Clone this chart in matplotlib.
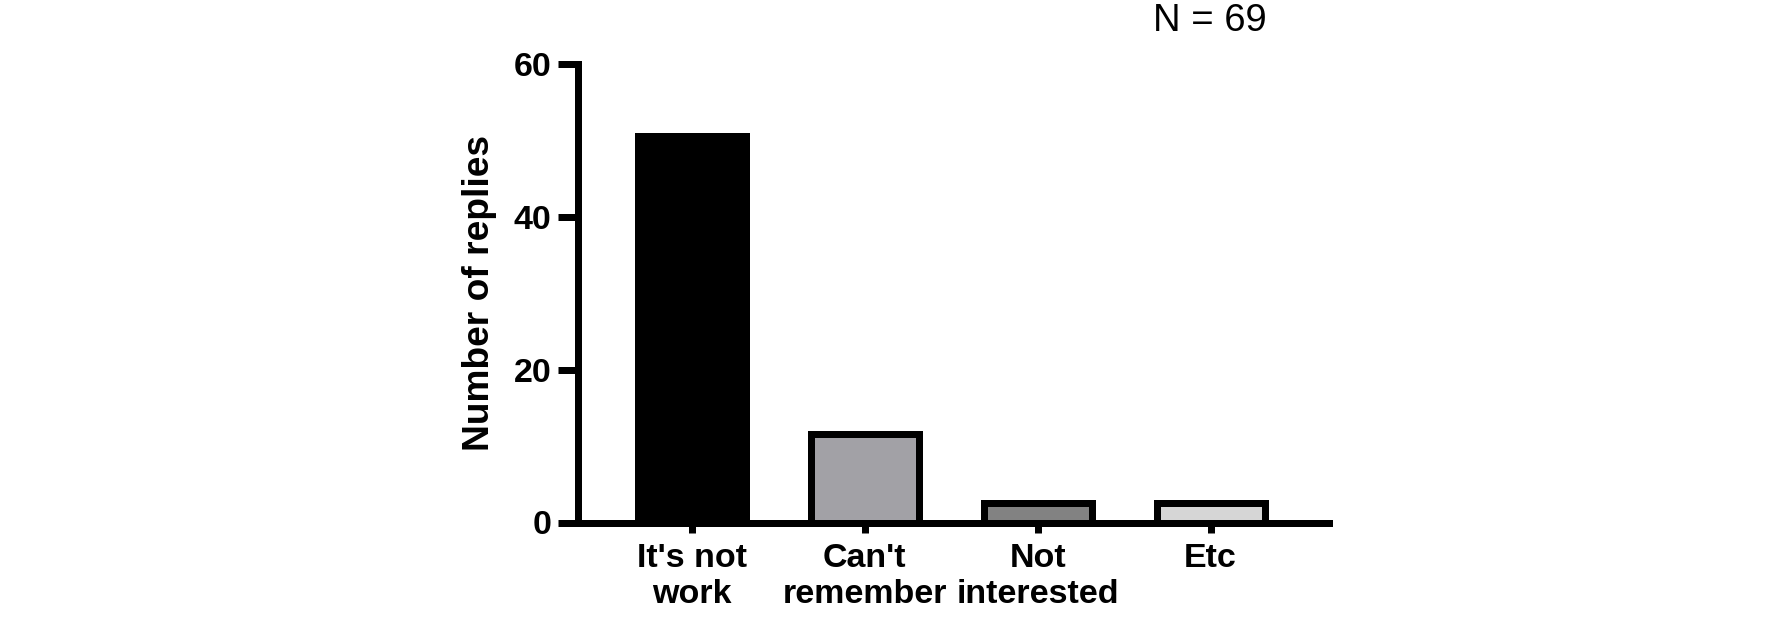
import numpy as np
import matplotlib
matplotlib.use("Agg")
import matplotlib.pyplot as plt

plt.rcParams['font.family'] = ['Liberation Sans', 'DejaVu Sans']

categories = ["It's not\nwork", "Can't\nremember", "Not\ninterested", "Etc"]
replies = [51, 12, 3, 3]
fill_colors = ["#000000", "#a2a1a6", "#828282", "#d6d6d6"]
y_ticks = [0, 20, 40, 60]

W, H = 1772, 622
fig = plt.figure(figsize=(W / 100, H / 100), dpi=100)
# axes box in pixels: y-axis at x=577.5, x-axis end 1329, y=0 at 522.5, y=60 at 64
ax = fig.add_axes([577.5 / W, 1 - 522.5 / H, (1329 - 577.5) / W, (522.5 - 64) / H])

lw_px = 7
lw = lw_px * 72 / 100
ymax = 60
px_per_unit = (522.5 - 64) / ymax
half_lw = (lw_px / 2) / px_per_unit  # so the outer edge of the border sits at the value

x = np.arange(len(categories))
heights = [v - half_lw for v in replies]
ax.bar(x, heights, width=0.624, color=fill_colors, edgecolor="black",
       linewidth=lw, zorder=3)

ax.set_xlim(-0.66, 3.684)
ax.set_ylim(0, ymax)
ax.set_yticks(y_ticks)
ax.set_xticks(x)
ax.set_xticklabels(categories, fontsize=24.5, fontweight="bold", linespacing=1.22)
ax.set_yticklabels([str(t) for t in y_ticks], fontsize=24.5, fontweight="bold")
ax.tick_params(axis="y", width=lw, length=14.4, pad=4.5)
ax.tick_params(axis="x", width=lw, length=7.5, pad=7)

# "interested" sits a little right of centre in the original
ax.get_xticklabels()[2].set_x(2.03)

for s in ["top", "right"]:
    ax.spines[s].set_visible(False)
for s in ["left", "bottom"]:
    ax.spines[s].set_linewidth(lw)
    ax.spines[s].set_zorder(4)

ax.set_ylabel("Number of replies", fontsize=26.7, fontweight="bold", labelpad=12)

fig.text(1210 / W, 1 - 31 / H, "N = 69", fontsize=27.5, ha="center", va="baseline")

fig.savefig("out.png", dpi=100, facecolor="white")
